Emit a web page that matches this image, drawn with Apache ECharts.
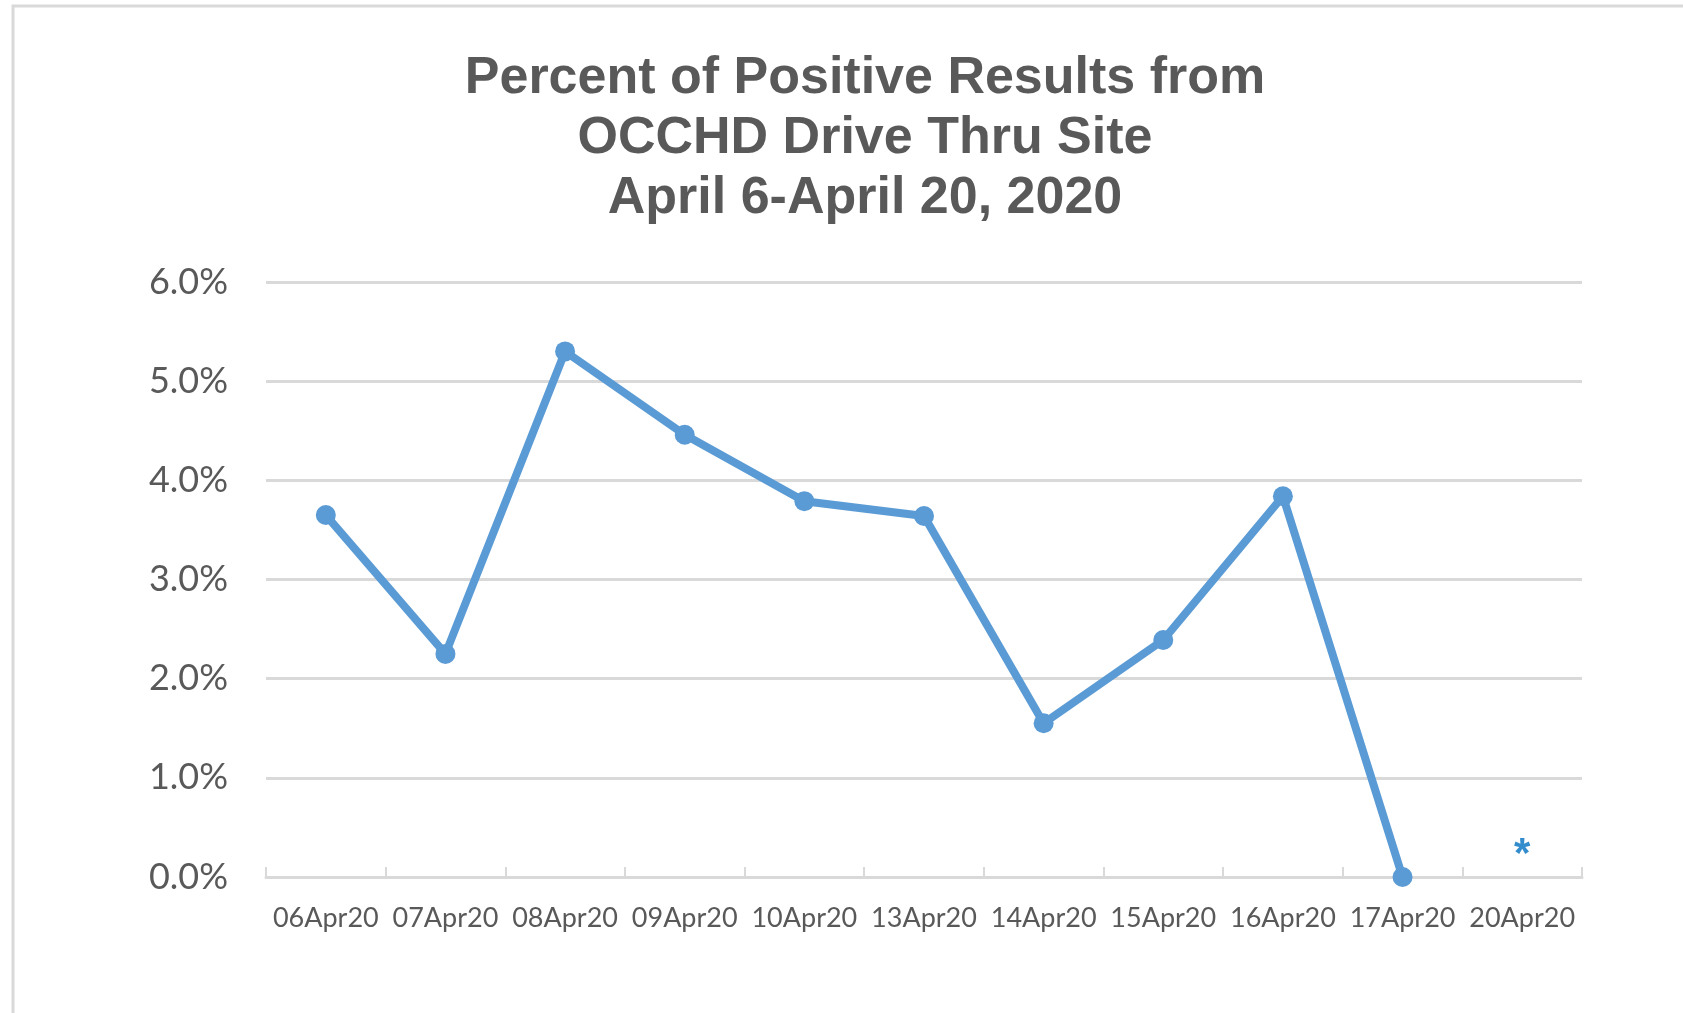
<!DOCTYPE html>
<html>
<head>
<meta charset="utf-8">
<title>Percent of Positive Results</title>
<script src="https://cdn.jsdelivr.net/npm/echarts@6/dist/echarts.min.js"></script>
<style>
  html, body { margin: 0; padding: 0; background: #fff; }
  #chart { width: 1683px; height: 1013px; }
</style>
</head>
<body>
<div id="chart"></div>
<script>
// 日期分类
var dates = ['06Apr20', '07Apr20', '08Apr20', '09Apr20', '10Apr20', '13Apr20',
             '14Apr20', '15Apr20', '16Apr20', '17Apr20', '20Apr20'];
// 阳性率(%)，20Apr20 没有数据
var positivePct = [3.65, 2.25, 5.30, 4.46, 3.79, 3.64, 1.55, 2.39, 3.84, 0.0, null];
// 星号注记位置
var noteDate = ['20Apr20'];
var noteValue = [0.22];
var yTicks = [0, 1, 2, 3, 4, 5, 6];

var chart = echarts.init(document.getElementById('chart'));

var option = {
    backgroundColor: '#fff',
    animation: false,
    title: {
        text: 'Percent of Positive Results from\nOCCHD Drive Thru Site\nApril 6-April 20, 2020',
        left: 860,
        top: 44,
        textAlign: 'center',
        textStyle: {
            fontFamily: 'Liberation Sans',
            fontWeight: 'bold',
            fontSize: 52,
            lineHeight: 60,
            color: '#595959'
        }
    },
    graphic: [{
        type: 'rect',
        shape: {x: 13, y: 6, width: 1800, height: 1200},
        style: {fill: 'none', stroke: '#d9d9d9', lineWidth: 3},
        silent: true
    }],
    grid: {left: 266, right: 101, top: 282, bottom: 136},
    xAxis: {
        type: 'category',
        data: dates,
        boundaryGap: true,
        axisLine: {lineStyle: {color: '#d9d9d9', width: 3}},
        axisTick: {show: true, inside: true, interval: 0, length: 10, lineStyle: {color: '#d9d9d9', width: 2}},
        axisLabel: {
            interval: 0,
            margin: 28,
            fontFamily: 'Lato',
            fontSize: 27,
            color: '#595959'
        },
        splitLine: {show: false}
    },
    yAxis: {
        type: 'value',
        min: yTicks[0],
        max: yTicks[yTicks.length - 1],
        interval: 1,
        axisLine: {show: false},
        axisTick: {show: false},
        axisLabel: {
            margin: 38,
            fontFamily: 'Lato',
            fontSize: 36,
            color: '#595959',
            formatter: function (v) { return v.toFixed(1) + '%'; }
        },
        splitLine: {lineStyle: {color: '#d9d9d9', width: 3}}
    },
    series: [
        {
            name: 'Percent Positive',
            type: 'line',
            data: positivePct,
            symbol: 'circle',
            symbolSize: 20,
            lineStyle: {color: '#5b9bd5', width: 8},
            itemStyle: {color: '#5b9bd5'},
            connectNulls: false
        },
        {
            name: 'note',
            type: 'scatter',
            data: noteDate.map(function (d, i) { return [d, noteValue[i]]; }),
            symbolSize: 0,
            label: {
                show: true,
                position: 'inside',
                formatter: '*',
                fontFamily: 'Liberation Sans',
                fontWeight: 'bold',
                fontSize: 42,
                color: '#0070c0'
            }
        }
    ]
};

chart.setOption(option);
</script>
</body>
</html>
